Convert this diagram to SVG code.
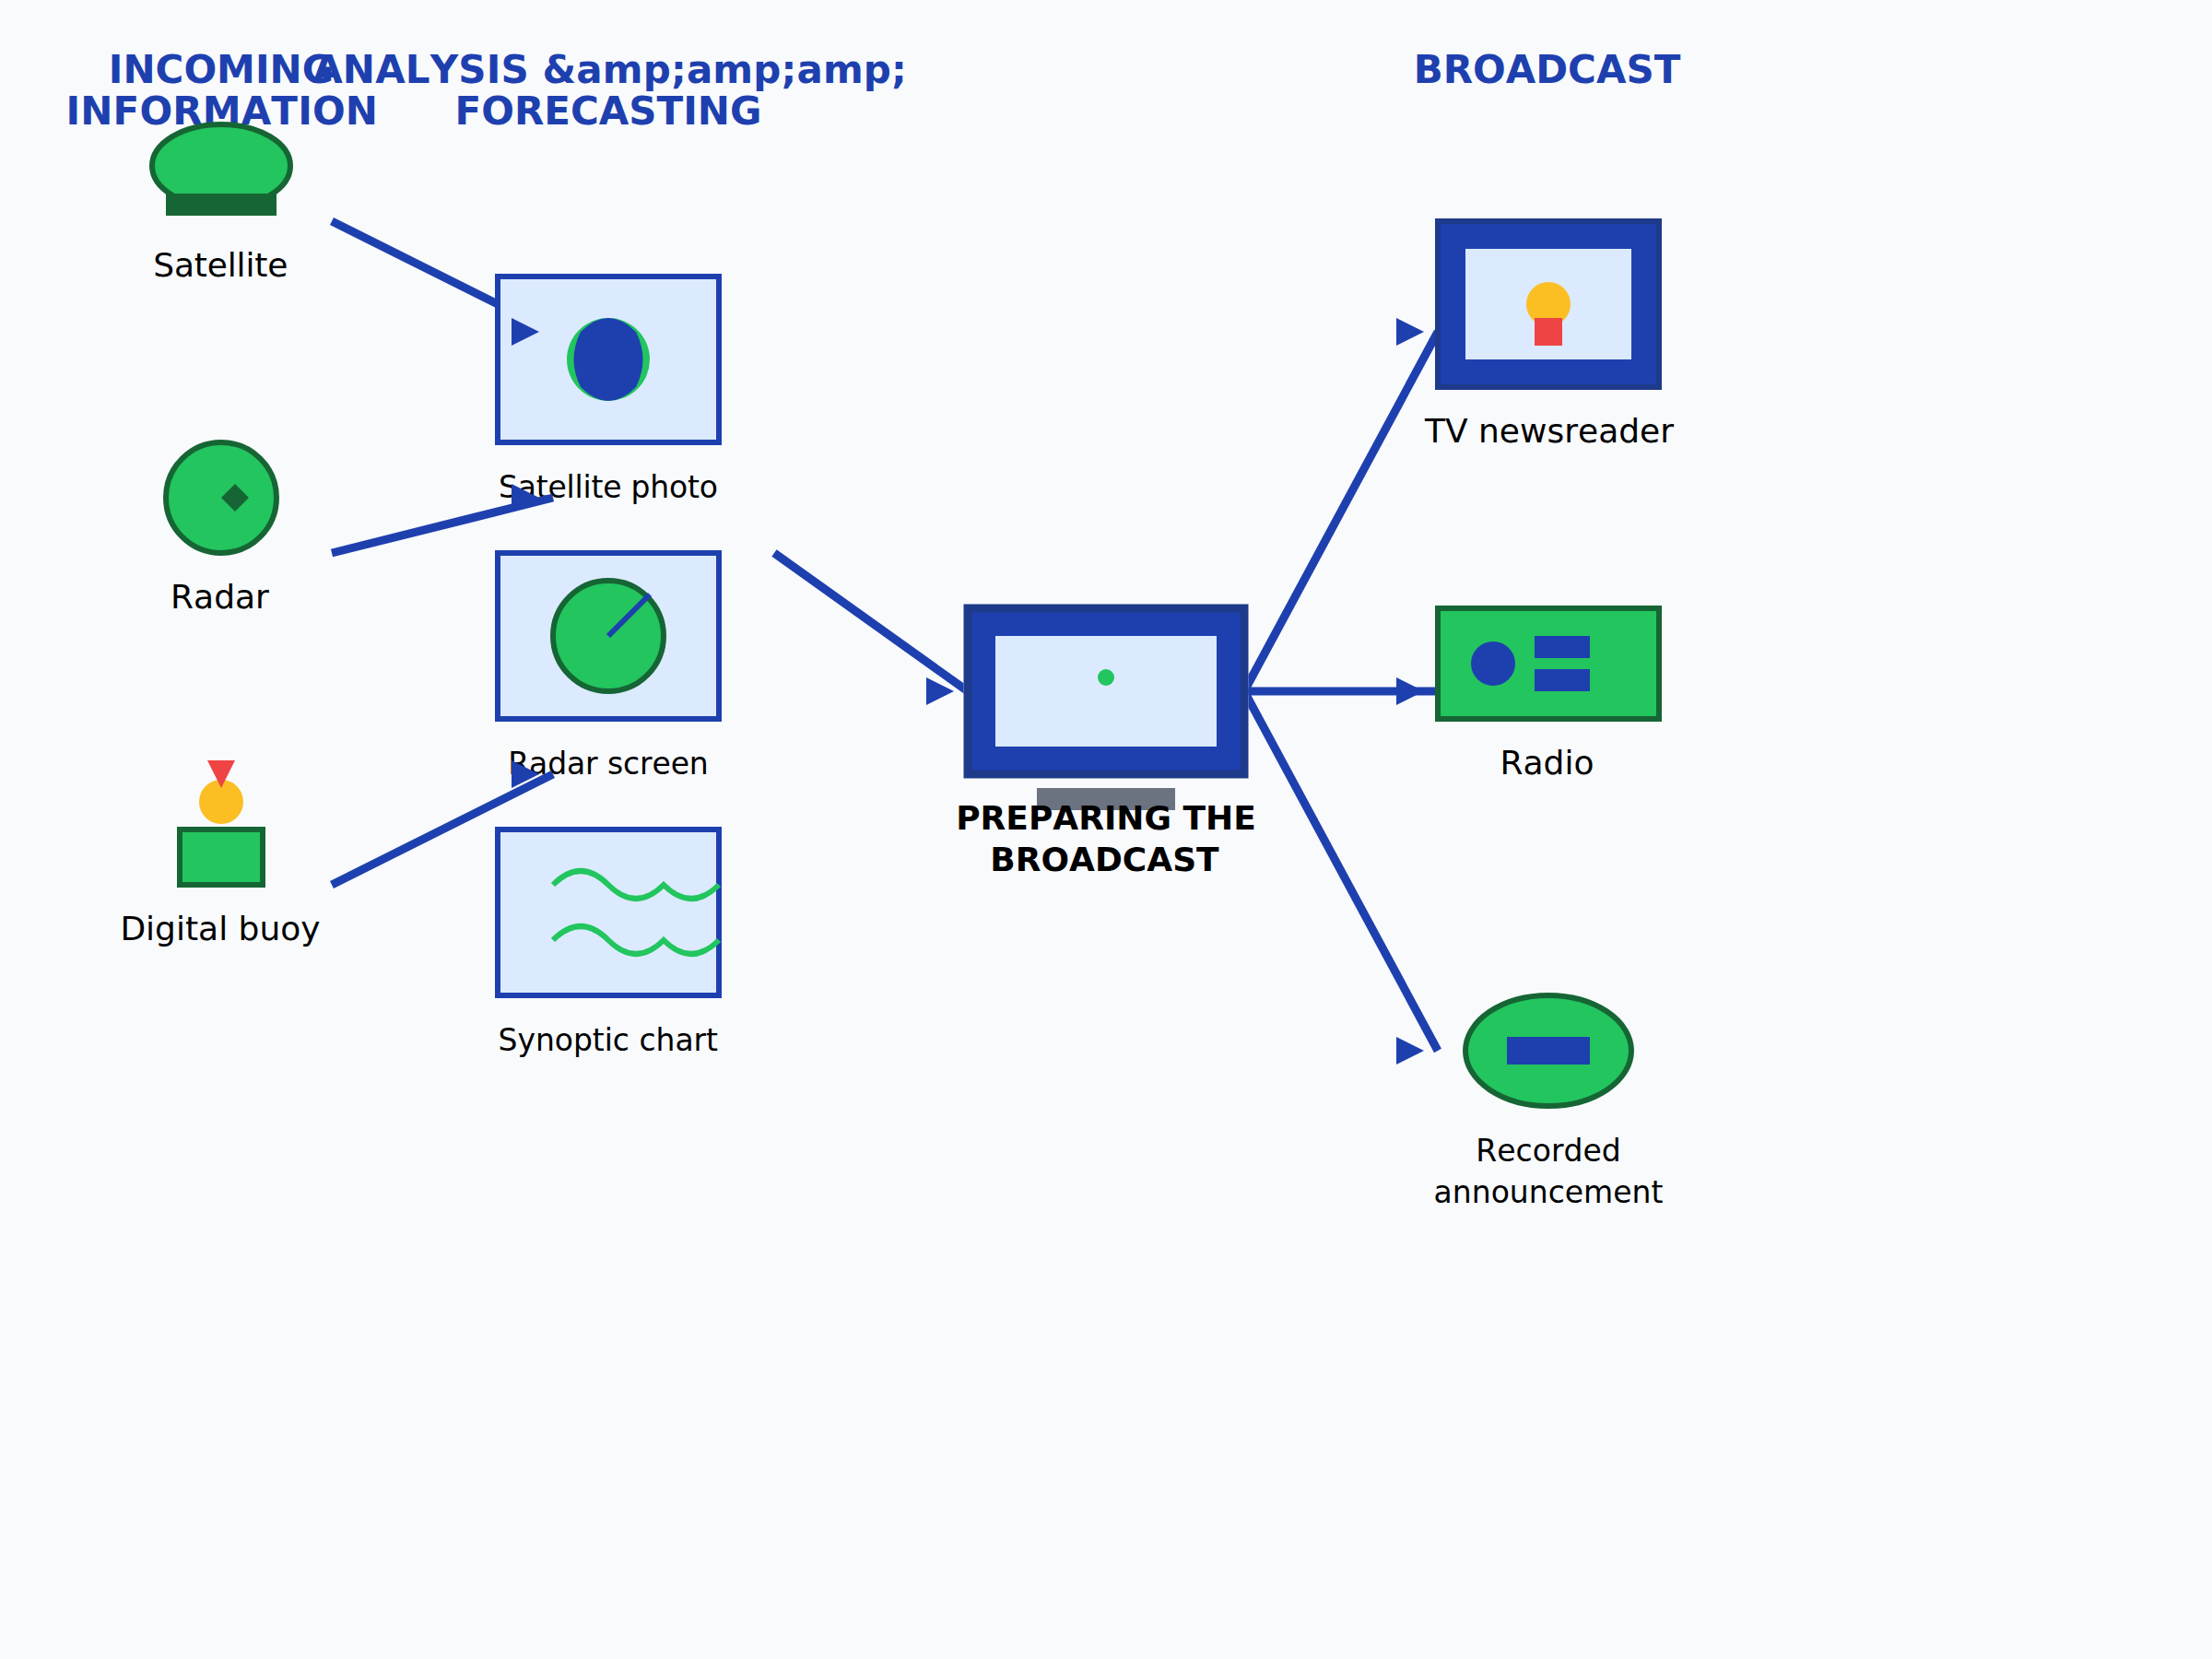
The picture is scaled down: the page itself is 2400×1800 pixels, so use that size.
<svg xmlns="http://www.w3.org/2000/svg" width="2400" height="1800" viewBox="0 0 2400 1800">
<style>
text{font-family:"DejaVu Sans",sans-serif;text-anchor:middle;fill:#000;font-kerning:none}
.title{font-size:42px;font-weight:700;fill:#1e40af}
.bold{font-size:36px;font-weight:700}
.l{font-size:36px}
.s{font-size:33px}
.g{fill:#22c55e;stroke:#166534;stroke-width:6}
.dk{fill:#166534}
.blue{fill:#1e40af}
.pale{fill:#dbeafe}
.panel{fill:#dbeafe;stroke:#1e40af;stroke-width:6}
.tv{fill:#1e40af;stroke:#1e3a8a;stroke-width:6}
.wave{fill:none;stroke:#22c55e;stroke-width:6}
.link{stroke:#1e40af;stroke-width:9;fill:none}
</style>
<defs>
<polygon id="arrow" class="blue" points="-15,-15 15,0 -15,15"/>
<clipPath id="outsideNodes"><path clip-rule="evenodd" d="M0 0H2400V1800H0ZM537 297H783V483H537ZM1045.500 655.500H1354.500V844.500H1045.500ZM1557 237H1803V423H1557ZM1557 657H1803V783H1557Z"/></clipPath>
</defs>
<rect width="2400" height="1800" fill="#f8fafc"/>
<g id="headers">
<text class="title" x="240" y="90">INCOMING</text>
<text class="title" x="240.700" y="135" textLength="338.500">INFORMATION</text>
<text class="title" x="661.500" y="90" textLength="644.600">ANALYSIS &amp;amp;amp;amp;</text>
<text class="title" x="660" y="135">FORECASTING</text>
<text class="title" x="1678.500" y="90">BROADCAST</text>
</g>
<g id="satellite">
<ellipse class="g" cx="240" cy="180" rx="75" ry="45"/>
<rect class="dk" x="180" y="210" width="120" height="24"/>
<text class="l" x="239.300" y="300" textLength="146">Satellite</text>
</g>
<g id="radar">
<circle class="g" cx="240" cy="540" r="60"/>
<polygon class="dk" points="240,540 255,525 270,540 255,555"/>
<text class="l" x="238.500" y="660">Radar</text>
</g>
<g id="digital-buoy">
<rect class="g" x="195" y="900" width="90" height="60"/>
<circle cx="240" cy="870" r="24" fill="#fbbf24"/>
<polygon points="225,825 255,825 240,855" fill="#ef4444"/>
<text class="l" x="239" y="1020">Digital buoy</text>
</g>
<g id="satellite-photo">
<rect class="panel" x="540" y="300" width="240" height="180"/>
<circle cx="660" cy="390" r="45" fill="#22c55e"/>
<path class="blue" d="M630 360Q615 390 630 420Q660 450 690 420Q705 390 690 360Q660 330 630 360Z"/>
<text class="s" x="660" y="540" textLength="238">Satellite photo</text>
</g>
<g id="radar-screen">
<rect class="panel" x="540" y="600" width="240" height="180"/>
<circle class="g" cx="660" cy="690" r="60"/>
<line x1="660" y1="690" x2="705" y2="645" stroke="#1e40af" stroke-width="6"/>
<text class="s" x="660" y="840" textLength="217.500">Radar screen</text>
</g>
<g id="synoptic-chart">
<rect class="panel" x="540" y="900" width="240" height="180"/>
<path class="wave" d="M600 960Q630 930 660 960T720 960Q750 990 780 960"/>
<path class="wave" d="M600 1020Q630 990 660 1020T720 1020Q750 1050 780 1020"/>
<text class="s" x="659.800" y="1140" textLength="238.500">Synoptic chart</text>
</g>
<g id="preparing-broadcast">
<rect x="1050" y="660" width="300" height="180" fill="#1e40af" stroke="#1e3a8a" stroke-width="9"/>
<rect class="pale" x="1080" y="690" width="240" height="120"/>
<circle cx="1200" cy="735" r="9" fill="#22c55e"/>
<rect x="1125" y="855" width="150" height="24" fill="#6b7280"/>
<text class="bold" x="1200" y="900">PREPARING THE</text>
<text class="bold" x="1198.500" y="945">BROADCAST</text>
</g>
<g id="tv-newsreader">
<rect class="tv" x="1560" y="240" width="240" height="180"/>
<rect class="pale" x="1590" y="270" width="180" height="120"/>
<circle cx="1680" cy="330" r="24" fill="#fbbf24"/>
<rect x="1665" y="345" width="30" height="30" fill="#ef4444"/>
<text class="l" x="1681" y="480">TV newsreader</text>
</g>
<g id="radio">
<rect class="g" x="1560" y="660" width="240" height="120"/>
<circle class="blue" cx="1620" cy="720" r="24"/>
<rect class="blue" x="1665" y="690" width="60" height="24"/>
<rect class="blue" x="1665" y="726" width="60" height="24"/>
<text class="l" x="1678.500" y="840">Radio</text>
</g>
<g id="recorded-announcement">
<ellipse class="g" cx="1680" cy="1140" rx="90" ry="60"/>
<rect class="blue" x="1635" y="1125" width="90" height="30"/>
<text class="s" x="1680" y="1260">Recorded</text>
<text class="s" x="1680" y="1305">announcement</text>
</g>
<g id="connectors">
<g clip-path="url(#outsideNodes)">
<line class="link" x1="360" y1="240" x2="600" y2="360"/>
<line class="link" x1="360" y1="600" x2="600" y2="540"/>
<line class="link" x1="360" y1="960" x2="600" y2="840"/>
<line class="link" x1="840" y1="600" x2="1050" y2="750"/>
<line class="link" x1="1350" y1="750" x2="1560" y2="360"/>
<line class="link" x1="1350" y1="750" x2="1560" y2="750"/>
<line class="link" x1="1350" y1="750" x2="1560" y2="1140"/>
</g>
<use href="#arrow" x="570" y="360"/>
<use href="#arrow" x="570" y="540"/>
<use href="#arrow" x="570" y="840"/>
<use href="#arrow" x="1020" y="750"/>
<use href="#arrow" x="1530" y="360"/>
<use href="#arrow" x="1530" y="750"/>
<use href="#arrow" x="1530" y="1140"/>
</g>
</svg>
